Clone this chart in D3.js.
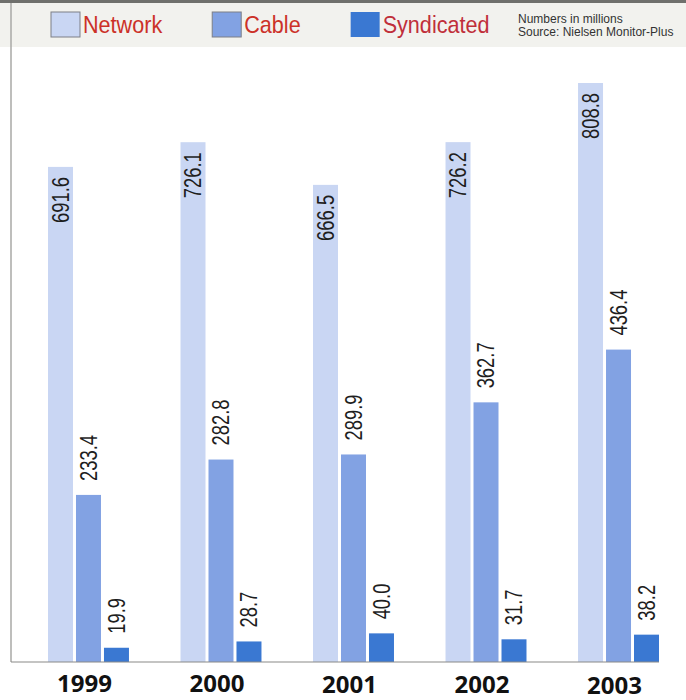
<!DOCTYPE html>
<html>
<head>
<meta charset="utf-8">
<script src="https://cdn.jsdelivr.net/npm/d3@7"></script>
<style>
  html, body { margin: 0; padding: 0; background: #fff; }
  svg { display: block; }
</style>
</head>
<body>
<div id="chart"></div>
<script>
// Data (millions)
const years = ["1999", "2000", "2001", "2002", "2003"];
const series = ["Network", "Cable", "Syndicated"];
const network = [691.6, 726.1, 666.5, 726.2, 808.8];
const cable = [233.4, 282.8, 289.9, 362.7, 436.4];
const syndicated = [19.9, 28.7, 40.0, 31.7, 38.2];
const notes = ["Numbers in millions", "Source: Nielsen Monitor-Plus"];

const width = 686, height = 700;
const baseY = 662;
const sans = "'Liberation Sans', Arial, sans-serif";
// no narrow font installed, so squeeze glyphs horizontally
const squeeze = 0.8;

const color = d3.scaleOrdinal()
  .domain(series)
  .range(["#c9d6f3", "#82a2e3", "#3a78d2"]);

const rows = years.map((y, i) => ({
  year: y,
  values: [
    { key: "Network", value: network[i] },
    { key: "Cable", value: cable[i] },
    { key: "Syndicated", value: syndicated[i] }
  ]
}));

const svg = d3.select("#chart")
  .append("svg")
  .attr("width", width)
  .attr("height", height);

// header band
svg.append("rect")
  .attr("x", 0).attr("y", 0)
  .attr("width", width).attr("height", 47)
  .attr("fill", "#f2f2ee");
svg.append("rect")
  .attr("x", 0).attr("y", 0)
  .attr("width", width).attr("height", 3)
  .attr("fill", "#6f706c");
// left frame line
svg.append("line")
  .attr("x1", 11).attr("x2", 11)
  .attr("y1", 3).attr("y2", baseY)
  .attr("stroke", "#a9a9a6")
  .attr("stroke-width", 1.5);

// scales
const x0 = d3.scaleBand()
  .domain(years)
  .range([48, 659])
  .paddingInner(0.389)
  .paddingOuter(0);

const x1 = d3.scaleBand()
  .domain(series)
  .range([0, x0.bandwidth()])
  .paddingInner(0.107)
  .paddingOuter(0);

const y = d3.scaleLinear()
  .domain([0, 808.8])
  .range([baseY, 83]);

const fmt = d3.format(".1f");

// bars
const groups = svg.append("g")
  .selectAll("g")
  .data(rows)
  .join("g")
  .attr("transform", d => `translate(${x0(d.year)},0)`);

groups.selectAll("rect")
  .data(d => d.values)
  .join("rect")
  .attr("x", d => x1(d.key))
  .attr("y", d => y(d.value))
  .attr("width", x1.bandwidth())
  .attr("height", d => y(0) - y(d.value))
  .attr("fill", d => color(d.key));

// value labels (network inside the bar, others above)
groups.selectAll("text")
  .data(d => d.values)
  .join("text")
  .attr("transform", d => {
    const cx = x1(d.key) + x1.bandwidth() / 2;
    const ty = d.key === "Network" ? y(d.value) + 10 : y(d.value) - 14;
    return `translate(${cx},${ty}) rotate(-90) scale(${squeeze},1)`;
  })
  .attr("text-anchor", d => d.key === "Network" ? "end" : "start")
  .attr("dy", "0.36em")
  .attr("font-family", sans)
  .attr("font-size", "23px")
  .attr("fill", "#1e1e1e")
  .text(d => fmt(d.value));

// baseline
svg.append("line")
  .attr("x1", 11).attr("x2", 659)
  .attr("y1", baseY).attr("y2", baseY)
  .attr("stroke", "#8a8a88")
  .attr("stroke-width", 1.2);

// year labels
svg.append("g")
  .selectAll("text")
  .data(years)
  .join("text")
  .attr("x", d => x0(d) + x0.bandwidth() / 2 - 4)
  .attr("y", (d, i) => 692 + i * 0.4)
  .attr("text-anchor", "middle")
  .attr("font-family", "'Open Sans', 'Liberation Sans', sans-serif")
  .attr("font-weight", "bold")
  .attr("font-size", "24px")
  .attr("fill", "#111")
  .text(d => d);

// legend
const legend = svg.append("g");
let lx = 51;
series.forEach(s => {
  legend.append("rect")
    .attr("x", lx).attr("y", 12)
    .attr("width", 29).attr("height", 25)
    .attr("fill", color(s))
    .attr("stroke", s === "Syndicated" ? "none" : "#7d7f86")
    .attr("stroke-width", 1);
  const t = legend.append("text")
    .attr("transform", `translate(${lx + 32},33) scale(0.9,1)`)
    .attr("font-family", sans)
    .attr("font-size", "24px")
    .attr("fill", s === "Syndicated" ? "#c02f3a" : "#cc3128")
    .text(s);
  lx = lx + 32 + t.node().getComputedTextLength() * 0.9 + 50;
});

// notes
svg.append("g")
  .selectAll("text")
  .data(notes)
  .join("text")
  .attr("transform", (d, i) => `translate(518,${23 + i * 13})`)
  .attr("font-family", sans)
  .attr("font-size", "12px")
  .attr("fill", "#333")
  .text(d => d);
</script>
</body>
</html>
